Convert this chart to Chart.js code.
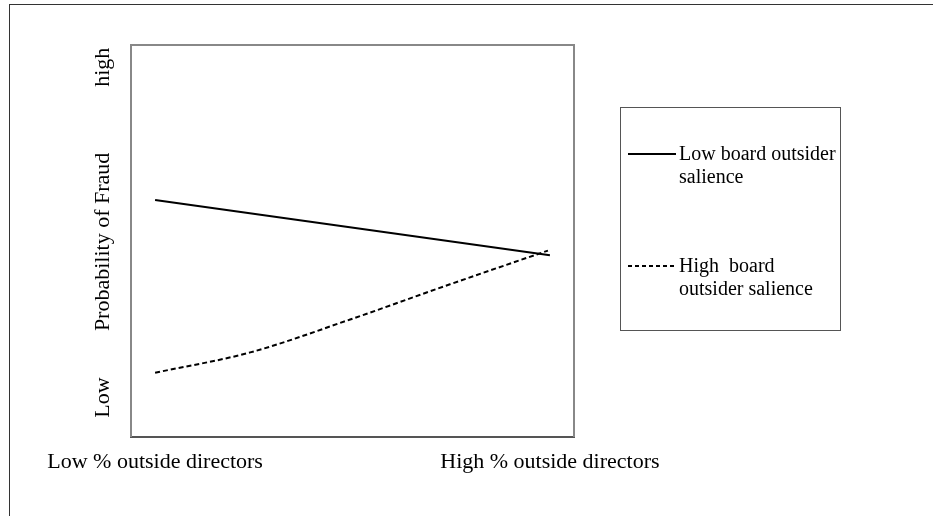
<!DOCTYPE html>
<html>
<head>
<meta charset="utf-8">
<script src="https://cdn.jsdelivr.net/npm/chart.js@4/dist/chart.umd.min.js"></script>
<style>
  html, body { margin: 0; padding: 0; background: #fff; overflow: hidden; }
  #wrap { position: relative; width: 933px; height: 516px; overflow: hidden; }
  #frame { position: absolute; left: 9px; top: 4px; width: 2000px; height: 2000px; border: 1px solid #333; }
  #c { position: absolute; left: 0; top: 0; }
  #legend { position: absolute; left: 620px; top: 107px; width: 219px; height: 222px; border: 1px solid #555;
            font-family: "Liberation Serif", "Times New Roman", serif; font-size: 20px; color: #000; }
  .item { position: absolute; left: 7px; }
  .sample { position: absolute; left: 0; width: 48px; height: 2px; }
  .txt { position: absolute; left: 51px; width: 161px; line-height: 23px; white-space: pre-wrap; }
</style>
</head>
<body>
<div id="wrap">
  <div id="frame"></div>
  <canvas id="c" width="933" height="516"></canvas>
  <div id="legend"></div>
</div>
<script>
// ---- data ----
const seriesLabels = ['Low board outsider salience', 'High  board outsider salience'];
const xTickValues = [0, 100];
const xTickLabels = ['Low % outside directors', 'High % outside directors'];
const yTickValues = [15.1, 72.5, 99.3];
const yTickLabels = ['Low', 'Probability of Fraud', 'high'];
const lowSalienceX = [0, 100];
const lowSalienceY = [60.4, 46.3];
const highSalienceX = [0, 24.1, 49.4, 74.7, 99.5];
const highSalienceY = [16.3, 21.5, 29.9, 38.9, 47.5];

const toPoints = (xs, ys) => xs.map((x, i) => ({ x: x, y: ys[i] }));
const FONT = 'Liberation Serif';

const chart = new Chart(document.getElementById('c'), {
  type: 'line',
  data: {
    datasets: [
      { label: seriesLabels[0], data: toPoints(lowSalienceX, lowSalienceY),
        borderColor: '#000', borderWidth: 2, pointRadius: 0, fill: false, tension: 0 },
      { label: seriesLabels[1], data: toPoints(highSalienceX, highSalienceY),
        borderColor: '#000', borderWidth: 2, borderDash: [5, 3], pointRadius: 0, fill: false,
        cubicInterpolationMode: 'monotone' }
    ]
  },
  options: {
    responsive: false,
    devicePixelRatio: 1,
    animation: false,
    layout: { padding: { left: 77, right: 359, top: 45, bottom: 29 } },
    plugins: { legend: { display: false }, tooltip: { enabled: false } },
    scales: {
      x: {
        type: 'linear', position: 'bottom', min: -6.1, max: 106.1,
        afterBuildTicks: s => { s.ticks = xTickValues.map(v => ({ value: v })); },
        ticks: {
          autoSkip: false, maxRotation: 0, minRotation: 0, padding: 12, color: '#000',
          font: { family: FONT, size: 22 },
          callback: v => xTickLabels[xTickValues.indexOf(v)]
        },
        grid: { display: false, drawTicks: false },
        border: { display: true, color: '#555', width: 2 }
      },
      y: {
        type: 'linear', position: 'left', min: 0, max: 100,
        afterBuildTicks: s => { s.ticks = yTickValues.map(v => ({ value: v })); },
        afterFit: s => { s.width = 54; },
        ticks: {
          autoSkip: false, minRotation: 90, maxRotation: 90, padding: 28, color: '#000',
          font: { family: FONT, size: 22 },
          callback: v => yTickLabels[yTickValues.indexOf(v)]
        },
        grid: { display: false, drawTicks: false },
        border: { display: true, color: '#888', width: 2 }
      },
      x2: {
        type: 'linear', position: 'top', min: 0, max: 1,
        ticks: { display: false }, grid: { display: false, drawTicks: false },
        border: { display: true, color: '#888', width: 2 }
      },
      y2: {
        type: 'linear', position: 'right', min: 0, max: 1,
        ticks: { display: false }, grid: { display: false, drawTicks: false },
        border: { display: true, color: '#888', width: 2 }
      }
    }
  }
});

// HTML legend built from the chart's datasets
const legend = document.getElementById('legend');
const itemTops = [34, 146];
chart.data.datasets.forEach((ds, i) => {
  const item = document.createElement('div');
  item.className = 'item';
  item.style.top = itemTops[i] + 'px';
  const sample = document.createElement('div');
  sample.className = 'sample';
  sample.style.top = '10.5px';
  if (ds.borderDash && ds.borderDash.length) {
    const [on, off] = ds.borderDash;
    sample.style.background = 'repeating-linear-gradient(to right, #000 0 ' + (on - 1) + 'px, transparent ' + (on - 1) + 'px ' + (on - 1 + off) + 'px)';
  } else {
    sample.style.background = '#000';
  }
  const txt = document.createElement('div');
  txt.className = 'txt';
  txt.textContent = ds.label;
  item.appendChild(sample);
  item.appendChild(txt);
  legend.appendChild(item);
});
</script>
</body>
</html>
